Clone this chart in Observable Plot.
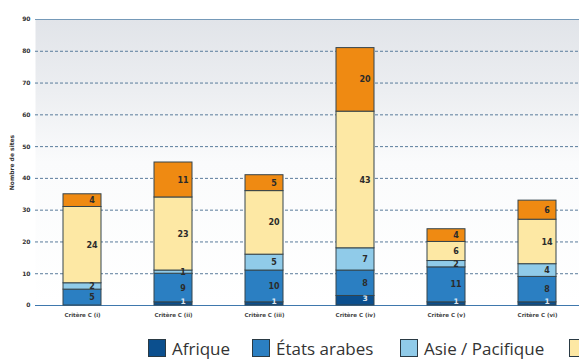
<!DOCTYPE html>
<html><head><meta charset="utf-8">
<script src="https://cdn.jsdelivr.net/npm/d3@7"></script>
<script src="https://cdn.jsdelivr.net/npm/@observablehq/plot@0.6"></script>
<style>
body{margin:0;background:#fff;overflow:hidden;width:579px;height:362px;position:relative;}
#legend{position:absolute;left:0;top:337px;width:579px;height:22px;font-family:"Open Sans",sans-serif;font-size:17px;color:#333;}
#legend .it{position:absolute;top:0;display:flex;align-items:center;white-space:nowrap;height:22px;}
#legend .sw{width:18px;height:18px;border:1px solid #2a3a44;box-sizing:border-box;margin-right:6px;}
</style></head>
<body>
<div id="chart"></div>
<div id="legend"></div>
<script>
const criteria = ["Critère C (i)","Critère C (ii)","Critère C (iii)","Critère C (iv)","Critère C (v)","Critère C (vi)"];
const regions = ["Afrique","États arabes","Asie / Pacifique","Europe / Amérique du Nord","Amérique latine / Caraïbes"];
const afrique = [0,1,1,3,1,1];
const etatsArabes = [5,9,10,8,11,8];
const asiePacifique = [2,1,5,7,2,4];
const europeAmerique = [24,23,20,43,6,14];
const ameriqueLatine = [4,11,5,20,4,6];
const yTicks = [0,10,20,30,40,50,60,70,80,90];
const colors = ["#0b4f8e","#2b7fc2","#90cbe9","#fde8a4","#ef8a12"];
const legendLeft = [148, 252, 400, 569, 800];

const series = [afrique, etatsArabes, asiePacifique, europeAmerique, ameriqueLatine];
const rows = [];
regions.forEach((r, i) => criteria.forEach((c, j) => rows.push({critere: c, region: r, value: series[i][j]})));

const svg = Plot.plot({
  width: 579, height: 330,
  marginLeft: 35, marginRight: 0, marginTop: 19, marginBottom: 25,
  style: {background: "transparent"},
  x: {domain: criteria, range: [35, 583], paddingInner: 0.585, paddingOuter: 0.284},
  y: {domain: [0, 90]},
  color: {domain: regions, range: colors},
  marks: [
    Plot.frame({fill: "url(#bggrad)", stroke: null}),
    Plot.ruleY(yTicks.filter(d => d > 0 && d < 90), {stroke: "#5a7c9c", strokeWidth: 1, strokeDasharray: "3,2"}),
    Plot.ruleY([90], {stroke: "#7599b8", strokeWidth: 1}),
    Plot.ruleY([0], {stroke: "#3f78ad", strokeWidth: 1.2}),
    Plot.barY(rows, Plot.stackY({x: "critere", y: "value", fill: "region", stroke: "#34444c", strokeWidth: 1})),
    Plot.text(rows, Plot.stackY({x: "critere", y: "value", z: "region",
      text: d => d.value > 0 && d.region !== "Afrique" ? String(d.value) : "",
      fill: "#2b2b2b", fontSize: 8, fontWeight: "bold", dx: 9.5, fontFamily: "DejaVu Sans"})),
    Plot.text(rows, Plot.stackY({filter: d => d.region === "Afrique" && d.value > 0,
      x: "critere", y: "value", z: "region", text: d => String(d.value),
      fill: "#dfe8f2", fontSize: 7.5, fontWeight: "bold", dx: 9.5, dy: -2.5, fontFamily: "DejaVu Sans"})),
    Plot.axisY(yTicks, {tickSize: 0, tickPadding: 5, fontSize: 6, fontWeight: "bold", fontFamily: "DejaVu Sans", fill: "#333",
      label: "Nombre de sites", labelAnchor: "center", labelArrow: "none", labelOffset: 26}),
    Plot.axisX({tickSize: 0, tickPadding: 8, fontSize: 5.5, fontWeight: "bold", fontFamily: "DejaVu Sans", fill: "#444", label: null})
  ]
});
d3.select(svg).insert("defs", ":first-child").html(
  '<linearGradient id="bggrad" x1="0" y1="0" x2="0" y2="1">' +
  '<stop offset="0" stop-color="#e1e4e9"/><stop offset="0.25" stop-color="#eceef1"/>' +
  '<stop offset="0.5" stop-color="#fafbfc"/><stop offset="1" stop-color="#ffffff"/></linearGradient>');
document.getElementById("chart").appendChild(svg);

const lg = d3.select("#legend");
regions.forEach((r, i) => {
  const it = lg.append("div").attr("class", "it").style("left", legendLeft[i] + "px");
  it.append("div").attr("class", "sw").style("background", colors[i]);
  it.append("span").text(r);
});
</script>
</body></html>
